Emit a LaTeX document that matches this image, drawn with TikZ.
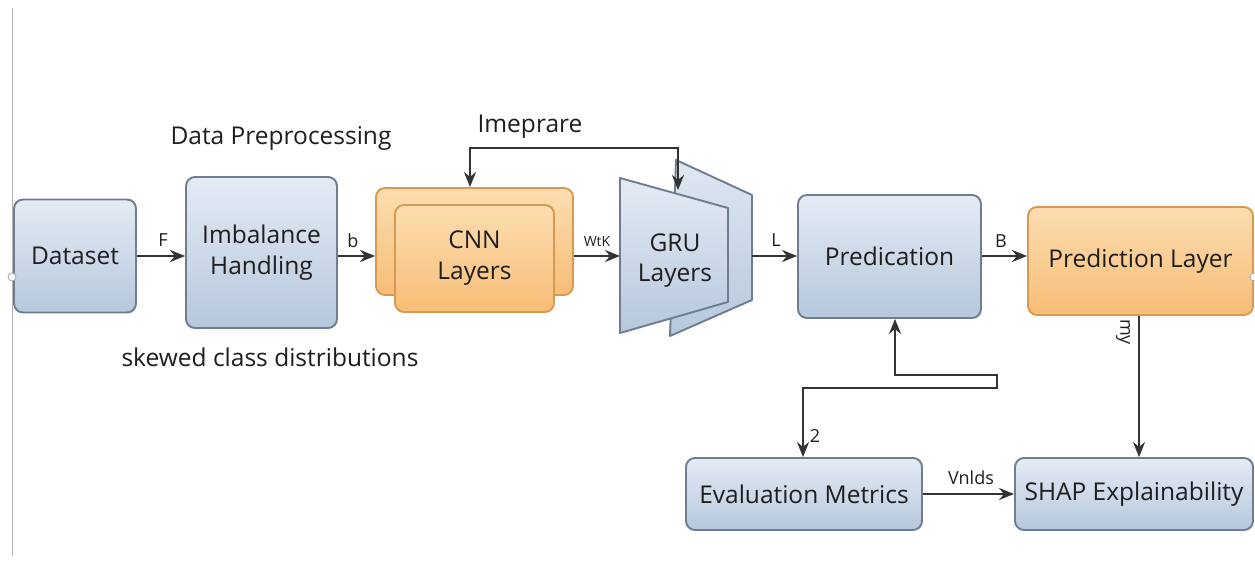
\documentclass[tikz,border=0pt]{standalone}
\usepackage{fontspec}
\setmainfont{Open Sans}
\usetikzlibrary{arrows.meta,calc}

\definecolor{bluetop}{HTML}{E4EBF4}
\definecolor{bluebot}{HTML}{B6C8DD}
\definecolor{blueline}{HTML}{6E7E90}
\definecolor{orgtop}{HTML}{FCDDB0}
\definecolor{orgbot}{HTML}{F7BD76}
\definecolor{orgline}{HTML}{D69A55}
\definecolor{ink}{HTML}{1E1E1E}
\definecolor{wire}{HTML}{333333}

\tikzset{
  base/.style={rounded corners=9pt, line width=1.9pt, align=center,
    font=\fontsize{24.5}{31}\selectfont, text=ink, inner sep=0pt},
  bluebox/.style={base, draw=blueline, top color=bluetop, bottom color=bluebot},
  orgbox/.style={base, draw=orgline, top color=orgtop, bottom color=orgbot},
  arr/.style={draw=wire, line width=2.1pt,
    -{Stealth[length=15pt,width=12pt]}},
  arrboth/.style={draw=wire, line width=2.1pt,
    {Stealth[length=15pt,width=12pt]}-{Stealth[length=15pt,width=12pt]}},
  elabel/.style={font=\fontsize{18}{21}\selectfont, text=ink, inner sep=1pt},
  freetext/.style={font=\fontsize{24.5}{30}\selectfont, text=ink, inner sep=0pt},
  pin/.style={circle, draw=gray!70, fill=white, line width=0.8pt,
    minimum size=8pt, inner sep=0pt},
}

\begin{document}
\begin{tikzpicture}[x=1pt, y=-1pt]
  \useasboundingbox[fill=white] (0,0) rectangle (1255,561);

  % thin rule on the left margin
  \draw[gray!60, line width=1pt] (12,8) -- (12,556);

  % main row
  \node[bluebox, minimum width=122pt, minimum height=113pt] (ds) at (75,256) {Dataset};
  \node[bluebox, minimum width=151pt, minimum height=151pt] (imb) at (261.5,252.5) {Imbalance\\Handling};

  % stacked CNN boxes
  \node[orgbox, minimum width=197pt, minimum height=107pt] (cnnb) at (474.5,241.5) {};
  \node[orgbox, minimum width=159pt, minimum height=107pt] (cnn) at (474.5,258.5) {CNN\\Layers};

  % GRU block drawn as two trapezoids
  \filldraw[line width=1.9pt, draw=blueline, top color=bluetop!90!bluebot, bottom color=bluebot,
    line join=round] (676,160) -- (752,195) -- (752,300) -- (670,336) -- cycle;
  \filldraw[line width=1.9pt, draw=blueline, top color=bluetop, bottom color=bluebot,
    line join=round] (620,178) -- (728,208) -- (728,302) -- (620,333) -- cycle;
  \node[freetext, align=center, text=ink] (gru) at (675,261) {GRU\\Layers};
  \coordinate (gruW) at (620,256);
  \coordinate (gruE) at (752,256);
  \coordinate (gruT) at (678,190);
  \coordinate (loopTop) at (678,148);

  \node[bluebox, minimum width=183pt, minimum height=123pt] (pred) at (889.5,256.5) {Predication};
  \node[orgbox, minimum width=225pt, minimum height=108pt] (pl) at (1140.5,261) {Prediction Layer};

  % bottom row
  \node[bluebox, minimum width=236pt, minimum height=72pt] (ev) at (804,494) {Evaluation Metrics};
  \node[bluebox, minimum width=238pt, minimum height=72pt] (shap) at (1134,494) {SHAP Explainability};

  % free captions
  \node[freetext] (dp) at (281,138) {Data Preprocessing};
  \node[freetext] (skew) at (270,357) {skewed class distributions};
  \node[freetext] (imp) at (530,127) {Imeprare};

  % row connectors
  \draw[arr] (ds.east) -- (ds.east -| imb.west);
  \node[elabel] (lF) at (163,240) {F};
  \draw[arr] (imb.east |- ds.east) -- (ds.east -| cnnb.west);
  \node[elabel] (lb) at (353,241) {b};
  \draw[arr] (cnnb.east |- gruW) -- (gruW);
  \node[elabel, font=\fontsize{14}{16}\selectfont] (lw) at (597,242) {WtK};
  \draw[arr] (gruE) -- (gruE -| pred.west);
  \node[elabel] (lL) at (776,240) {L};
  \draw[arr] (pred.east |- gruE) -- (gruE -| pl.west);
  \node[elabel] (lB) at (1001,241) {B};

  % feedback over CNN and GRU
  \draw[arrboth] ([xshift=-4.5pt]cnnb.north) |- (loopTop) -- (gruT);

  % prediction layer down to SHAP
  \draw[arr] ([xshift=-1.5pt]pl.south) -- ([xshift=-1.5pt]pl.south |- shap.north);
  \node[elabel, rotate=-90] (lmy) at (1123,332) {my};

  % evaluation loop back to predication
  \coordinate (c1) at (803,388);
  \coordinate (c2) at (997,388);
  \coordinate (c3) at (997,375);
  \coordinate (c4) at (895,375);
  \draw[arrboth] ([xshift=-1pt]ev.north) -- (c1) -- (c2) -- (c3) -- (c4) -- (c4 |- pred.south);
  \node[elabel] (l2) at (815,436) {2};

  \draw[arr] (ev.east) -- (shap.west);
  \node[elabel] (lv) at (971,478) {Vnlds};

  % small connection pins on the outer edges
  \node[pin] (pinL) at (12,277) {};
  \node[pin] (pinR) at (1254,277) {};
\end{tikzpicture}
\end{document}
